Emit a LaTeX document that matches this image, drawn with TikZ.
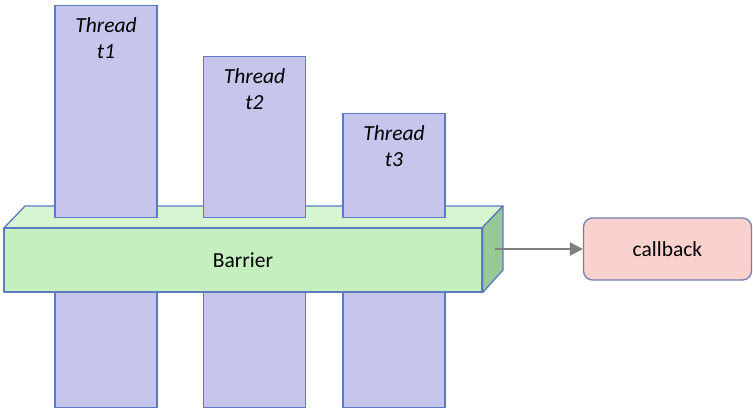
\documentclass[tikz,border=0pt]{standalone}
\usepackage{fontspec}
\setmainfont{Carlito}
\usetikzlibrary{arrows.meta,positioning}

\definecolor{threadfill}{RGB}{198,197,236}
\definecolor{edgeblue}{RGB}{92,122,192}
\definecolor{barfront}{RGB}{198,239,192}
\definecolor{bartop}{RGB}{214,245,208}
\definecolor{barside}{RGB}{150,201,150}
\definecolor{cbfill}{RGB}{250,209,205}
\definecolor{cbedge}{RGB}{112,128,178}
\definecolor{arrowgray}{RGB}{128,128,128}

\tikzset{
  thread/.style={draw=edgeblue,fill=threadfill,line width=1.3pt,minimum width=102pt,inner sep=0pt,anchor=south},
  threadtext/.style={anchor=north,align=center,font=\fontsize{21.5}{26}\selectfont\itshape,inner sep=0pt},
  face/.style={draw=edgeblue,line width=1.3pt,line join=round}
}

\begin{document}
\begin{tikzpicture}[x=1pt,y=1pt]
\useasboundingbox (0,0) rectangle (753,409);

% top face of the barrier
\filldraw[face,fill=bartop] (4,181) -- (25,203) -- (503,203) -- (482,181) -- cycle;

% threads, upper parts
\node[thread,minimum height=212pt] (t1) at (106,191) {};
\node[thread,minimum height=161pt] (t2) at (254.5,191) {};
\node[thread,minimum height=104pt] (t3) at (394,191) {};
\node[threadtext,below=13pt of t1.north] (l1) {Thread\\t1};
\node[threadtext,below=13pt of t2.north] (l2) {Thread\\t2};
\node[threadtext,below=13pt of t3.north] (l3) {Thread\\t3};

% threads, lower parts
\node[thread,minimum height=116pt] (b1) at (106,1) {};
\node[thread,minimum height=116pt] (b2) at (254.5,1) {};
\node[thread,minimum height=116pt] (b3) at (394,1) {};

% barrier front and side
\node[face,fill=barfront,minimum width=478pt,minimum height=64pt,inner sep=0pt,
      font=\fontsize{21.5}{26}\selectfont] (barrier) at (243,149) {Barrier};
\filldraw[face,fill=barside] (barrier.north east) -- (503,203) -- (503,139) -- (barrier.south east) -- cycle;
\coordinate (side) at (495,160);

% callback
\node[draw=cbedge,fill=cbfill,line width=1.3pt,rounded corners=9pt,minimum width=168pt,
      minimum height=62pt,font=\fontsize{21.5}{26}\selectfont] (cb) at (667.5,160) {callback};

\draw[arrowgray,line width=2.4pt,-{Triangle[length=13pt,width=13pt]}] (side) -- (cb.west);
\end{tikzpicture}
\end{document}
